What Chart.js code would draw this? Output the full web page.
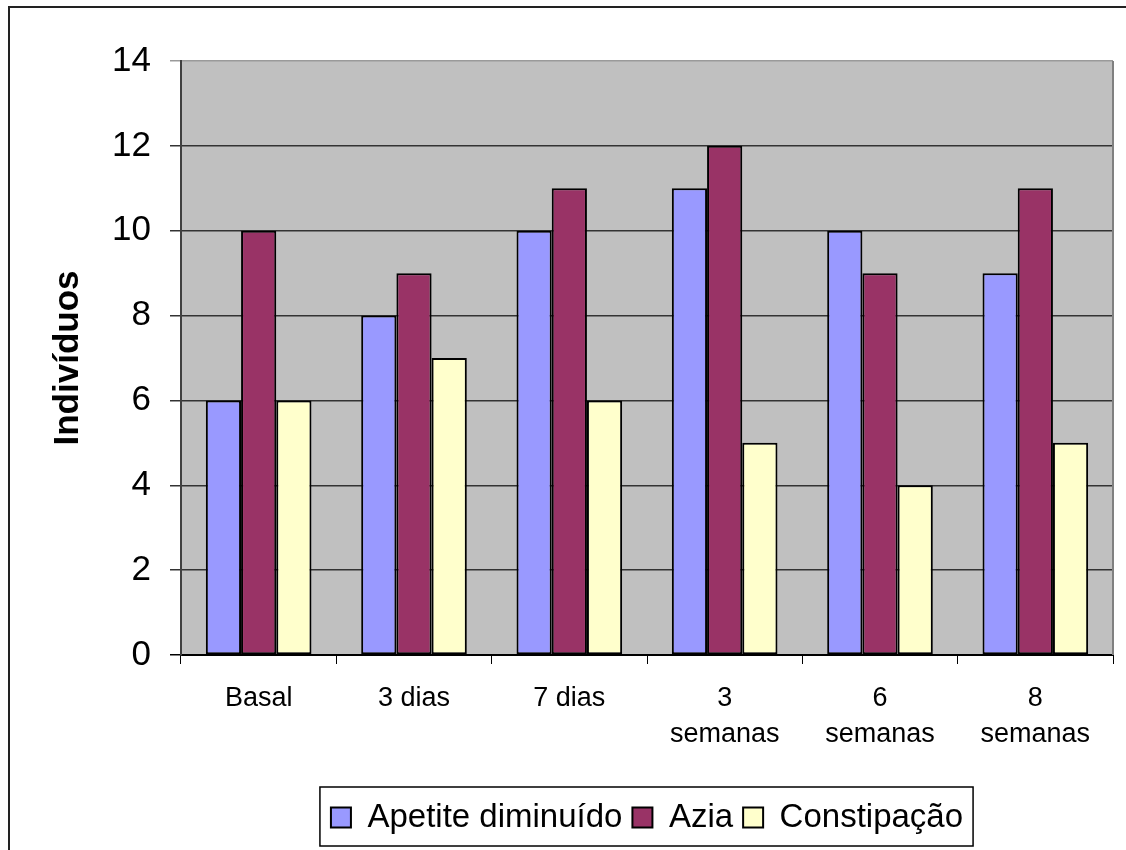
<!DOCTYPE html>
<html>
<head>
<meta charset="utf-8">
<script src="https://cdn.jsdelivr.net/npm/chart.js@4/dist/chart.umd.min.js"></script>
<style>
  body { margin: 0; background: #fff; }
  canvas { display: block; }
</style>
</head>
<body>
<canvas id="sintomasChart" width="1126" height="850"></canvas>
<script>
// Dados
const categorias = ['Basal', '3 dias', '7 dias', ['3', 'semanas'], ['6', 'semanas'], ['8', 'semanas']];
const apetiteDiminuido = [6, 8, 10, 11, 10, 9];
const azia = [10, 9, 11, 12, 9, 11];
const constipacao = [6, 7, 6, 5, 4, 5];
const yTicks = [0, 2, 4, 6, 8, 10, 12, 14];

const FONTE = '"Liberation Sans", Arial, sans-serif';

// Fundo cinza da área do gráfico, moldura externa e caixa da legenda
const moldura = {
    id: 'moldura',
    afterLayout(chart) {
        // legenda centrada sob a área do gráfico
        const lg = chart.legend;
        lg.left = chart.chartArea.left;
        lg.right = chart.chartArea.right;
        lg.width = lg.right - lg.left;
        lg.adjustHitBoxes();
    },
    beforeDraw(chart) {
        const { ctx, chartArea: a } = chart;
        ctx.save();
        ctx.fillStyle = '#fff';
        ctx.fillRect(0, 0, chart.width, chart.height);
        ctx.strokeStyle = '#222';
        ctx.lineWidth = 2;
        ctx.strokeRect(9, 7, 1300, 1000);
        ctx.fillStyle = '#c0c0c0';
        ctx.fillRect(a.left, a.top, a.right - a.left, a.bottom - a.top);
        ctx.restore();
    },
    afterDraw(chart) {
        const { ctx, chartArea: a, legend } = chart;
        ctx.save();
        ctx.strokeStyle = '#808080';
        ctx.lineWidth = 2;
        ctx.beginPath();
        ctx.moveTo(a.right, a.top);
        ctx.lineTo(a.right, a.bottom);
        ctx.stroke();
        const boxes = legend.legendHitBoxes;
        if (boxes && boxes.length) {
            const l = Math.min(...boxes.map(b => b.left)) - 11;
            const r = Math.max(...boxes.map(b => b.left + b.width)) + 10;
            ctx.strokeStyle = '#000';
            ctx.lineWidth = 1.5;
            ctx.strokeRect(l, legend.top - 4, r - l, legend.bottom - legend.top + 6);
        }
        ctx.restore();
    }
};

const ctx = document.getElementById('sintomasChart').getContext('2d');
new Chart(ctx, {
    type: 'bar',
    data: {
        labels: categorias,
        datasets: [
            { label: 'Apetite diminuído', data: apetiteDiminuido, backgroundColor: '#9999ff' },
            { label: 'Azia', data: azia, backgroundColor: '#993366' },
            { label: 'Constipação', data: constipacao, backgroundColor: '#ffffcc' }
        ].map(d => Object.assign(d, {
            borderColor: '#000',
            borderWidth: 2,
            borderSkipped: false,
            barPercentage: 1,
            categoryPercentage: 0.68
        }))
    },
    options: {
        responsive: false,
        animation: false,
        devicePixelRatio: 1,
        layout: { padding: { left: 0, top: 61, right: 13, bottom: 6 } },
        plugins: {
            tooltip: { enabled: false },
            legend: {
                position: 'bottom',
                labels: {
                    color: '#000',
                    font: { family: FONTE, size: 33 },
                    boxWidth: 20,
                    boxHeight: 20,
                    padding: 10
                }
            }
        },
        scales: {
            x: {
                afterFit: s => { s.height = 136; },
                grid: {
                    drawOnChartArea: false,
                    drawTicks: true,
                    tickLength: 9,
                    color: '#000',
                    lineWidth: 1
                },
                border: { color: '#000', width: 2 },
                ticks: {
                    color: '#000',
                    padding: 16,
                    font: { family: FONTE, size: 27, lineHeight: 1.35 }
                }
            },
            y: {
                min: 0,
                max: 14,
                afterFit: s => { s.width = 181; },
                afterBuildTicks: s => { s.ticks = yTicks.map(v => ({ value: v })); },
                grid: {
                    drawTicks: true,
                    tickLength: 11,
                    color: c => c.tick.value === 14 ? '#9a9a9a' : (c.tick.value === 0 ? '#000' : '#333'),
                    lineWidth: 1.5
                },
                border: { color: '#404040', width: 2 },
                ticks: {
                    color: '#000',
                    padding: 19,
                    font: { family: FONTE, size: 35 }
                },
                title: {
                    display: true,
                    text: 'Indivíduos',
                    color: '#000',
                    font: { family: FONTE, size: 35, weight: 'bold' },
                    padding: { top: 47, bottom: 0 }
                }
            }
        }
    },
    plugins: [moldura]
});
</script>
</body>
</html>
